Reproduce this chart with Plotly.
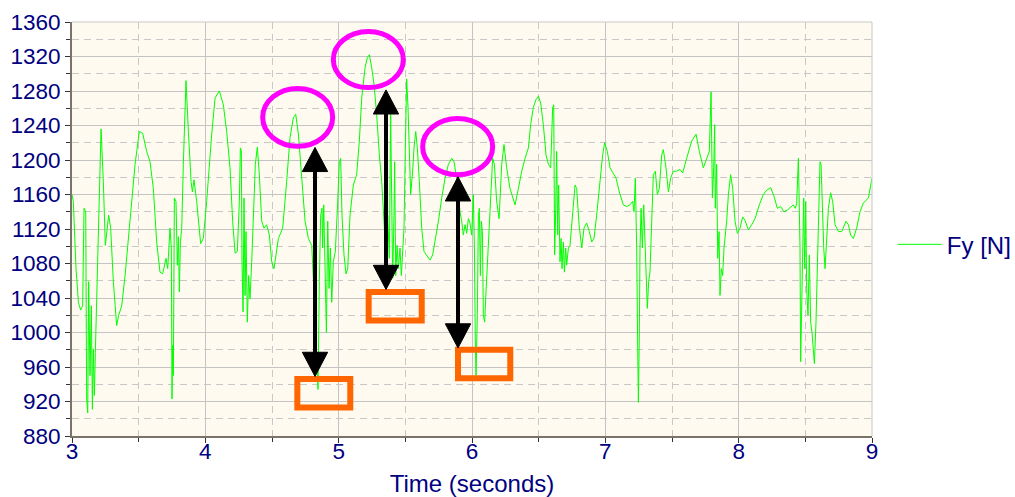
import plotly.graph_objects as go

# Lateral tyre force over time
time_s = [
    3.000, 3.010, 3.030, 3.048, 3.065, 3.080, 3.090, 3.103, 3.110, 3.118, 3.125, 3.135, 3.145, 3.153,
    3.160, 3.168, 3.175, 3.185, 3.203, 3.218, 3.235, 3.250, 3.275, 3.290, 3.310, 3.335, 3.350, 3.373,
    3.398, 3.435, 3.473, 3.505, 3.530, 3.560, 3.585, 3.610, 3.635, 3.660, 3.680, 3.705, 3.718, 3.735,
    3.745, 3.750, 3.755, 3.760, 3.768, 3.780, 3.790, 3.798, 3.805, 3.813, 3.823, 3.835, 3.855, 3.873,
    3.893, 3.903, 3.915, 3.935, 3.965, 3.985, 4.010, 4.048, 4.073, 4.105, 4.135, 4.160, 4.185, 4.205,
    4.223, 4.240, 4.255, 4.263, 4.270, 4.275, 4.283, 4.290, 4.298, 4.305, 4.315, 4.325, 4.335, 4.348,
    4.360, 4.375, 4.390, 4.405, 4.423, 4.440, 4.460, 4.480, 4.498, 4.515,
    4.548, 4.580, 4.610, 4.635, 4.660, 4.678, 4.698, 4.723, 4.748, 4.773, 4.798, 4.823, 4.835, 4.845,
    4.855, 4.865, 4.875, 4.880, 4.888, 4.898, 4.908, 4.918, 4.928, 4.938, 4.948, 4.960, 4.975, 4.993,
    5.005, 5.015, 5.025, 5.040, 5.055, 5.068, 5.085, 5.110, 5.135, 5.155, 5.173, 5.198, 5.215, 5.230,
    5.248, 5.265, 5.285, 5.305, 5.323, 5.340, 5.355, 5.368, 5.380, 5.390, 5.398, 5.405, 5.415, 5.420,
    5.428, 5.438, 5.448, 5.460, 5.470, 5.480, 5.490, 5.500, 5.510, 5.520, 5.530, 5.540, 5.555, 5.565,
    5.578, 5.590, 5.605, 5.623, 5.640, 5.660, 5.685, 5.705, 5.723, 5.748, 5.773, 5.798, 5.823, 5.848,
    5.865, 5.885, 5.910, 5.923, 5.935, 5.948, 5.960, 5.973, 5.985, 5.998,
    6.010, 6.018, 6.025, 6.030, 6.040, 6.048, 6.055, 6.063, 6.070, 6.078, 6.085, 6.095, 6.105, 6.123,
    6.140, 6.155, 6.168, 6.185, 6.203, 6.223, 6.240, 6.260, 6.285, 6.305, 6.323, 6.348, 6.373, 6.398,
    6.423, 6.440, 6.460, 6.480, 6.498, 6.515, 6.535, 6.555, 6.573, 6.590, 6.605, 6.613, 6.620, 6.628,
    6.635, 6.643, 6.650, 6.660, 6.668, 6.675, 6.685, 6.693, 6.703, 6.710, 6.723, 6.735, 6.755, 6.773,
    6.785, 6.803, 6.823, 6.840, 6.860, 6.880, 6.898, 6.915, 6.935, 6.960, 6.980, 6.995, 7.015, 7.035,
    7.055, 7.080, 7.105, 7.135, 7.160, 7.185, 7.205, 7.215, 7.225, 7.235, 7.243, 7.248, 7.255, 7.260,
    7.268, 7.278, 7.288, 7.295, 7.305, 7.315, 7.325, 7.335, 7.348, 7.360, 7.375, 7.390, 7.405, 7.423,
    7.435, 7.455, 7.473, 7.490, 7.510, 7.535,
    7.560, 7.580, 7.610, 7.648, 7.680, 7.705, 7.735, 7.760, 7.780, 7.793, 7.803, 7.813, 7.820, 7.825,
    7.835, 7.843, 7.853, 7.860, 7.870, 7.880, 7.890, 7.910, 7.923, 7.940, 7.955, 7.973, 7.990, 8.010,
    8.030, 8.048, 8.073, 8.098, 8.123, 8.155, 8.185, 8.210, 8.240, 8.265, 8.290, 8.315, 8.340, 8.365,
    8.390, 8.410, 8.425, 8.435, 8.448, 8.460, 8.465, 8.473, 8.480, 8.488, 8.495, 8.503, 8.510, 8.520,
    8.530, 8.540, 8.550, 8.560, 8.568, 8.580, 8.590, 8.600, 8.610, 8.618, 8.628, 8.638, 8.648, 8.660,
    8.673, 8.690, 8.705, 8.723, 8.748, 8.773, 8.805, 8.823, 8.840, 8.860, 8.885, 8.910, 8.935, 8.973,
    9.000,
]

fy_newton = [
    1160, 1152, 1074, 1035, 1026, 1031, 1144, 1140, 923, 907, 1059, 950, 1031, 911,
    981, 927, 977, 1039, 1175, 1236, 1175, 1101, 1136, 1121, 1059, 1008, 1020, 1031,
    1066, 1129, 1195, 1233, 1231, 1210, 1198, 1167, 1105, 1070, 1068, 1086, 1074, 1121,
    1098, 923, 985, 950, 1156, 1152, 1078, 1111, 1047, 1105, 1121, 1195, 1292, 1233,
    1175, 1163, 1177, 1152, 1103, 1109, 1152, 1230, 1272, 1280, 1264, 1233, 1191, 1129,
    1092, 1094, 1152, 1214, 1211, 1082, 1024, 1156, 1043, 1117, 1012, 1066, 1039, 1082,
    1125, 1195, 1215, 1183, 1129, 1121, 1125, 1113, 1082, 1074,
    1109, 1121, 1175, 1226, 1249, 1253, 1230, 1179, 1129, 1109, 1101, 1020, 981, 934,
    1059, 1136, 1144, 1098, 1148, 1074, 1000, 1129, 1051, 1098, 1035, 1082, 1094, 1152,
    1198, 1202, 1136, 1090, 1068, 1074, 1136, 1171, 1183, 1222, 1272, 1307, 1319, 1322,
    1307, 1288, 1253, 1206, 1175, 1129, 1082, 1136, 1086, 1253, 1129, 1063, 1136, 1198,
    1066, 1101, 1074, 1098, 1066, 1101, 1121, 1214, 1294, 1261, 1195, 1160, 1187, 1214,
    1233, 1214, 1175, 1121, 1094, 1090, 1084, 1090, 1105, 1129, 1156, 1179, 1195, 1202,
    1198, 1179, 1140, 1129, 1113, 1125, 1115, 1132, 1127, 1113,
    1160, 1098, 989, 950, 1020, 1136, 1144, 1066, 1129, 1117, 1020, 1012, 1047, 1098,
    1152, 1202, 1195, 1152, 1132, 1195, 1218, 1191, 1167, 1156, 1148, 1167, 1187, 1202,
    1214, 1241, 1261, 1270, 1274, 1266, 1241, 1206, 1195, 1191, 1261, 1264, 1090, 1144,
    1210, 1113, 1171, 1082, 1109, 1074, 1105, 1070, 1098, 1078, 1098, 1101, 1144, 1171,
    1167, 1125, 1098, 1121, 1127, 1117, 1105, 1109, 1136, 1175, 1206, 1220, 1210, 1191,
    1185, 1179, 1163, 1148, 1146, 1148, 1152, 1140, 1179, 1098, 981, 919, 1000, 1098,
    1144, 1098, 1148, 1117, 1059, 1028, 1059, 1070, 1129, 1183, 1187, 1160, 1167, 1206,
    1212, 1191, 1163, 1179, 1187, 1187,
    1189, 1185, 1202, 1222, 1230, 1210, 1191, 1202, 1210, 1279, 1156, 1191, 1241, 1144,
    1195, 1086, 1117, 1043, 1074, 1066, 1098, 1129, 1160, 1183, 1167, 1129, 1115, 1121,
    1134, 1130, 1119, 1125, 1132, 1148, 1160, 1165, 1168, 1158, 1144, 1146, 1140, 1142,
    1146, 1148, 1144, 1150, 1202, 1098, 966, 1028, 1098, 1156, 1074, 1152, 1051, 1020,
    1090, 1012, 1000, 981, 964, 1012, 1078, 1152, 1198, 1195, 1136, 1098, 1074, 1117,
    1144, 1162, 1152, 1125, 1117, 1117, 1129, 1125, 1113, 1109, 1121, 1140, 1150, 1156,
    1179,
]

# Highlighted peaks (x0, x1, y0, y1)
peak_ellipses = [
    (4.43, 4.955, 1216, 1283),
    (4.96, 5.485, 1284, 1349),
    (5.63, 6.155, 1183, 1248),
]
# Highlighted troughs (x0, x1, y0, y1)
trough_boxes = [
    (4.690, 5.087, 913, 946),
    (5.225, 5.623, 1014, 1047),
    (5.895, 6.287, 947, 980),
]
# Double arrows: x, top tip, bottom tip
swing_arrows = [
    (4.8225, 1214.6, 949.1),
    (5.355, 1281.3, 1049.9),
    (5.895, 1180.5, 982.1),
]

TEXT = "#000080"
FONT = "Liberation Sans, Arial, sans-serif"

fig = go.Figure()
fig.add_trace(go.Scatter(
    x=time_s, y=fy_newton, mode="lines", name="Fy [N]",
    line=dict(color="#00FF00", width=1),
))

shapes = []
for x0, x1, y0, y1 in peak_ellipses:
    shapes.append(dict(type="circle", xref="x", yref="y", x0=x0, x1=x1, y0=y0, y1=y1,
                       line=dict(color="#FF00FF", width=5), layer="above"))
for x0, x1, y0, y1 in trough_boxes:
    shapes.append(dict(type="rect", xref="x", yref="y", x0=x0, x1=x1, y0=y0, y1=y1,
                       line=dict(color="#FF6600", width=6), layer="above"))

head_half_w = 0.095   # seconds
head_len = 28         # newtons
for x, top, bot in swing_arrows:
    shapes.append(dict(type="line", xref="x", yref="y", x0=x, x1=x,
                       y0=top - head_len + 2, y1=bot + head_len - 2,
                       line=dict(color="black", width=4), layer="above"))
    for tip, base in ((top, top - head_len), (bot, bot + head_len)):
        path = (f"M{x},{tip} L{x - head_half_w},{base} L{x + head_half_w},{base} Z")
        shapes.append(dict(type="path", xref="x", yref="y", path=path,
                           fillcolor="black", line=dict(color="black", width=1), layer="above"))

# top and right frame
shapes.append(dict(type="line", xref="paper", yref="paper", x0=0, x1=1, y0=1, y1=1,
                   line=dict(color="#C8C8C8", width=1)))
shapes.append(dict(type="line", xref="paper", yref="paper", x0=1, x1=1, y0=0, y1=1,
                   line=dict(color="#C8C8C8", width=1)))

fig.update_layout(
    width=1015, height=497,
    margin=dict(l=72, r=143, t=22, b=61, autoexpand=False),
    paper_bgcolor="white",
    plot_bgcolor="#FEFAEF",
    font=dict(family=FONT, size=22.5, color=TEXT),
    shapes=shapes,
    showlegend=True,
    legend=dict(x=1.026, y=0.462, xanchor="left", yanchor="middle",
                itemwidth=44, bgcolor="rgba(0,0,0,0)",
                font=dict(family=FONT, size=24, color=TEXT)),
)

fig.update_xaxes(
    range=[3, 9], dtick=1, tick0=3,
    showgrid=True, gridcolor="#C4C4C4", gridwidth=1,
    showline=True, linecolor="#7A7468", linewidth=2,
    ticks="outside", ticklen=5, tickcolor="#333333",
    tickfont=dict(family=FONT, size=22.5, color=TEXT),
    ticklabelstandoff=-11,
    zeroline=False, automargin=False,
    minor=dict(dtick=0.5, showgrid=True, gridcolor="#C8C8C8", griddash="7px,5px",
               ticks="outside", ticklen=4, tickcolor="#333333"),
    title=dict(text="Time (seconds)", font=dict(family=FONT, size=24, color=TEXT), standoff=14),
)
fig.update_yaxes(
    range=[880, 1360], dtick=40, tick0=880,
    showgrid=True, gridcolor="#C4C4C4", gridwidth=1,
    showline=True, linecolor="#7A7468", linewidth=2,
    ticks="outside", ticklen=5, tickcolor="#333333",
    tickfont=dict(family=FONT, size=22.5, color=TEXT),
    zeroline=False, automargin=False,
    minor=dict(dtick=20, showgrid=True, gridcolor="#C8C8C8", griddash="7px,5px",
               ticks="outside", ticklen=4, tickcolor="#333333"),
)

fig.write_html("out.html")
